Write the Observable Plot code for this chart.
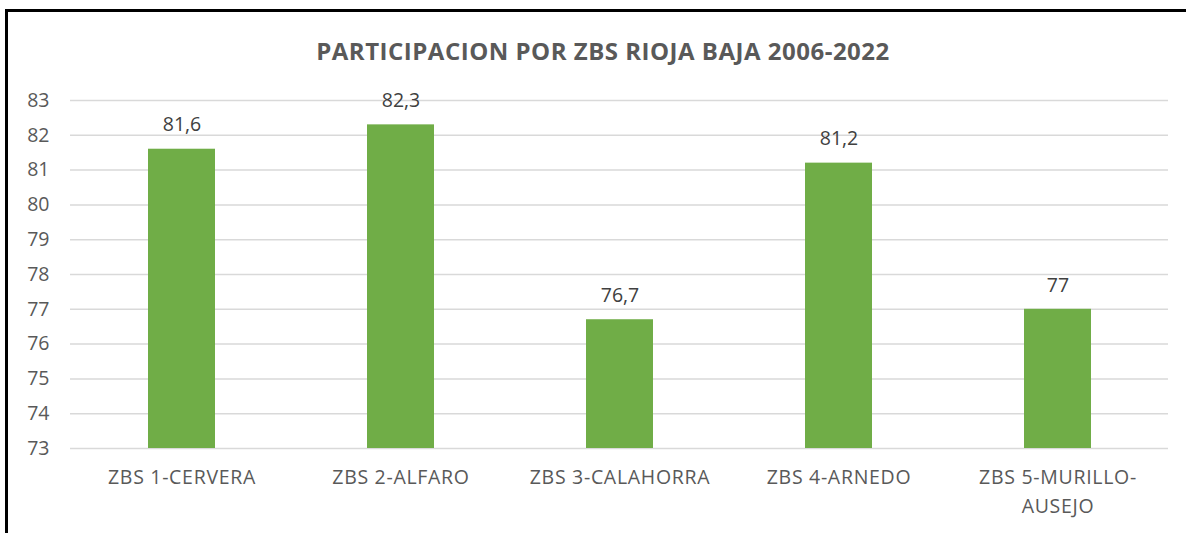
<!DOCTYPE html>
<html>
<head>
<meta charset="utf-8">
<script src="https://cdn.jsdelivr.net/npm/d3@7"></script>
<script src="https://cdn.jsdelivr.net/npm/@observablehq/plot@0.6"></script>
<style>
  html, body { margin: 0; padding: 0; background: #fff; overflow: hidden; }
  #frame { position: absolute; left: 5px; top: 9px; width: 1200px; height: 540px; border: 3px solid #000; box-sizing: border-box; }
  #title { position: absolute; top: 34px; left: 603px; transform: translateX(-50%); white-space: nowrap;
           font-family: "Open Sans", sans-serif; font-weight: bold; font-size: 24px; letter-spacing: 0.5px; color: #595959; }
  #chart { position: absolute; left: 0; top: 0; }
  #chart svg g[aria-label="x-axis tick label"] text { letter-spacing: 0.7px; }
</style>
</head>
<body>
<div id="frame"></div>
<div id="title">PARTICIPACION POR ZBS RIOJA BAJA 2006-2022</div>
<div id="chart"></div>
<script>
const categories = ["ZBS 1-CERVERA", "ZBS 2-ALFARO", "ZBS 3-CALAHORRA", "ZBS 4-ARNEDO", "ZBS 5-MURILLO-AUSEJO"];
const tickLabels = ["ZBS 1-CERVERA", "ZBS 2-ALFARO", "ZBS 3-CALAHORRA", "ZBS 4-ARNEDO", "ZBS 5-MURILLO-\nAUSEJO"];
const values = [81.6, 82.3, 76.7, 81.2, 77];
const valueLabels = ["81,6", "82,3", "76,7", "81,2", "77"];
const yTicks = [73, 74, 75, 76, 77, 78, 79, 80, 81, 82, 83];
const baseline = 73;

const data = categories.map((c, i) => ({cat: c, value: values[i], label: valueLabels[i]}));

const chart = Plot.plot({
  width: 1186,
  height: 533,
  marginLeft: 70,
  marginRight: 18,
  marginTop: 100,
  marginBottom: 85,
  style: {fontFamily: "'Open Sans', sans-serif", background: "transparent"},
  x: {domain: categories, paddingInner: 0.695, paddingOuter: 0.3475, label: null},
  y: {domain: [73, 83], label: null},
  marks: [
    Plot.gridY(yTicks, {stroke: "#d9d9d9", strokeOpacity: 1, strokeWidth: 1.5}),
    Plot.axisY(yTicks, {tickSize: 0, tickPadding: 0, dx: -21, textAnchor: "end", label: null,
      fontSize: 19.5, fill: "#595959", tickFormat: d => String(d)}),
    Plot.axisX({tickSize: 0, tickPadding: 16, fontSize: 19.5, fill: "#595959", label: null,
      lineHeight: 1.44,
      tickFormat: d => tickLabels[categories.indexOf(d)]}),
    Plot.barY(data, {x: "cat", y1: baseline, y2: "value", fill: "#70ad47"}),
    Plot.text(data, {x: "cat", y: "value", text: "label", dy: -24, fontSize: 19.5, fill: "#404040"})
  ]
});
document.getElementById("chart").appendChild(chart);
</script>
</body>
</html>
